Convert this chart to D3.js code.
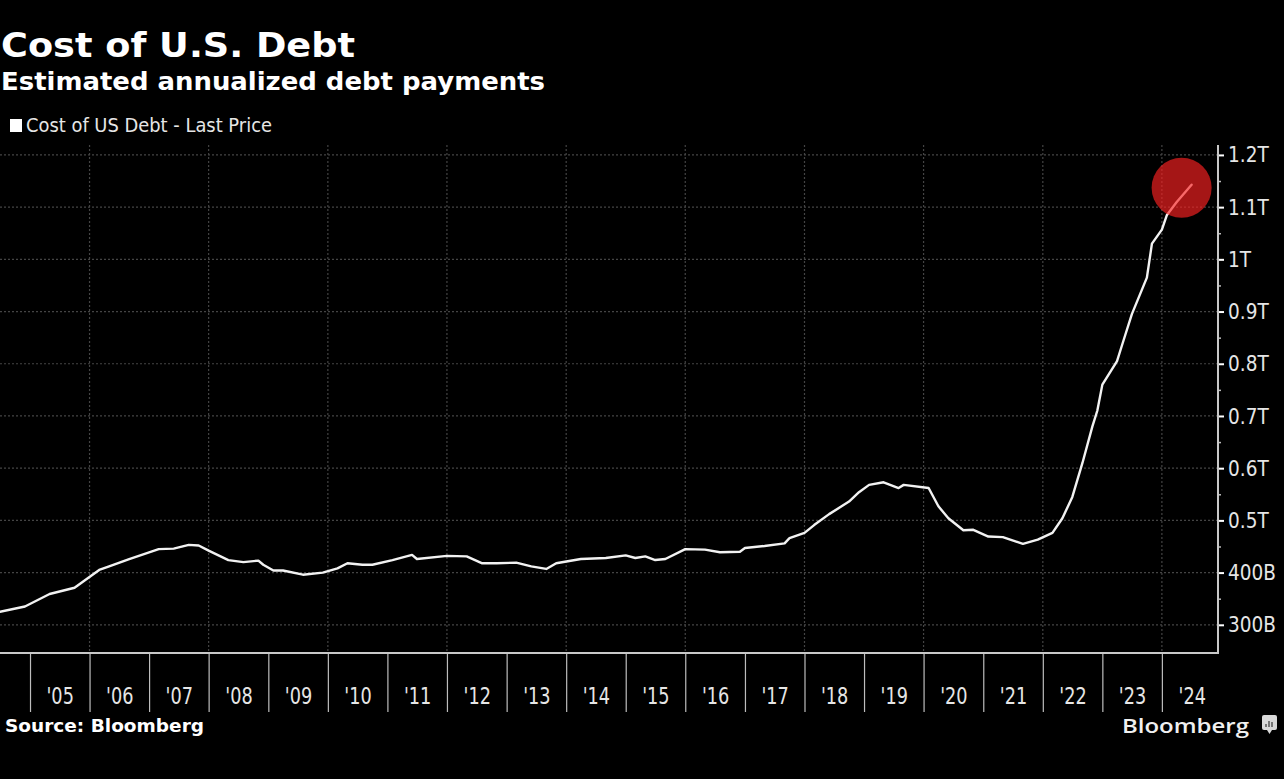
<!DOCTYPE html>
<html>
<head>
<meta charset="utf-8">
<script src="https://cdn.jsdelivr.net/npm/d3@7"></script>
<style>
  html, body { margin: 0; padding: 0; background: #000; }
  svg { display: block; }
</style>
</head>
<body>
<svg id="chart" width="1284" height="779"></svg>
<script>
// ---------------- DATA ----------------
const titleText = "Cost of U.S. Debt";
const subtitleText = "Estimated annualized debt payments";
const legendText = "Cost of US Debt - Last Price";
const sourceText = "Source: Bloomberg";
const brandText = "Bloomberg";

// Dates (year-month) and values (billions USD)
const dates = [
  "2004-07","2004-12","2005-05","2005-10","2006-03","2006-05","2006-09","2007-03","2007-06","2007-09",
  "2007-11","2008-01","2008-05","2008-08","2008-11","2008-12","2009-02","2009-04","2009-08","2009-12",
  "2010-03","2010-05","2010-08","2010-10","2011-02","2011-06","2011-07","2012-01","2012-05","2012-08",
  "2012-11","2013-03","2013-06","2013-09","2013-11","2014-04","2014-09","2015-01","2015-03","2015-05",
  "2015-07","2015-09","2016-01","2016-05","2016-08","2016-12","2017-01","2017-05","2017-09","2017-10",
  "2018-01","2018-03","2018-06","2018-10","2018-12","2019-02","2019-05","2019-08","2019-09","2020-02",
  "2020-04","2020-06","2020-09","2020-11","2021-02","2021-05","2021-09","2021-12","2022-03","2022-05",
  "2022-07","2022-09","2022-11","2022-12","2023-01","2023-04","2023-05","2023-07","2023-10","2023-11",
  "2024-01","2024-02","2024-04","2024-07"
];
const values = [
  325, 335, 359, 371, 405, 412, 426, 445, 446, 453,
  452, 442, 424, 420, 423, 415, 404, 404, 396, 400,
  408, 418, 415, 415, 424, 434, 426, 432, 431, 418,
  418, 419, 412, 407, 418, 426, 428, 433, 428, 431,
  424, 426, 445, 444, 439, 440, 447, 451, 456, 466,
  476, 491, 512, 536, 554, 568, 573, 562, 568, 562,
  527, 504, 481, 482, 469, 468, 455, 463, 476, 504,
  545, 610, 680, 710, 760, 805, 835, 895, 965, 1030,
  1057, 1085, 1110, 1143
];

const yTickValues = [300, 400, 500, 600, 700, 800, 900, 1000, 1100, 1200];
const yTickLabels = ["300B", "400B", "0.5T", "0.6T", "0.7T", "0.8T", "0.9T", "1T", "1.1T", "1.2T"];
const yMinorValues = [350, 450, 550, 650, 750, 850, 950, 1050, 1150];
const xYears = [2005, 2006, 2007, 2008, 2009, 2010, 2011, 2012, 2013, 2014,
                2015, 2016, 2017, 2018, 2019, 2020, 2021, 2022, 2023, 2024];
const xYearLabels = ["'05","'06","'07","'08","'09","'10","'11","'12","'13","'14",
                     "'15","'16","'17","'18","'19","'20","'21","'22","'23","'24"];
const xGridYears = [2006, 2008, 2010, 2012, 2014, 2016, 2018, 2020, 2022, 2024];
const highlightDate = "2024-05";
const highlightValue = 1137;

// ---------------- LAYOUT ----------------
const svg = d3.select("#chart");
const plot = { left: 0, right: 1218, top: 145, bottom: 653 };
const parse = d3.timeParse("%Y-%m");
const series = dates.map((d, i) => ({ date: parse(d), value: values[i] }));

const x = d3.scaleTime()
  .domain([new Date(2004, 6, 1), new Date(2024, 11, 10)])
  .range([plot.left, plot.right]);
const y = d3.scaleLinear()
  .domain([246, 1219])
  .range([plot.bottom, plot.top]);

const narrowFont = "'DejaVu Sans', sans-serif";
function condense(sel, factor) {
  sel.each(function () {
    const len = this.getComputedTextLength();
    d3.select(this).attr("textLength", len * factor).attr("lengthAdjust", "spacingAndGlyphs");
  });
}
function fitWidth(sel, width) {
  sel.attr("textLength", width).attr("lengthAdjust", "spacingAndGlyphs");
}

svg.append("rect").attr("width", 1284).attr("height", 779).attr("fill", "#000");

// ---------------- TITLES ----------------
svg.append("text").attr("x", 1).attr("y", 57)
  .attr("fill", "#fff").attr("font-family", "'DejaVu Sans', sans-serif")
  .attr("font-weight", "bold").attr("font-size", 34)
  .text(titleText).call(fitWidth, 354);

svg.append("text").attr("x", 1).attr("y", 90)
  .attr("fill", "#fff").attr("font-family", "'DejaVu Sans', sans-serif")
  .attr("font-weight", "bold").attr("font-size", 25)
  .text(subtitleText).call(fitWidth, 544);

// legend
svg.append("rect").attr("x", 10).attr("y", 119).attr("width", 12).attr("height", 13).attr("fill", "#fff");
svg.append("text").attr("x", 26).attr("y", 132)
  .attr("fill", "#e6e6e6").attr("font-family", narrowFont).attr("font-size", 19)
  .text(legendText).call(fitWidth, 246);

// ---------------- GRID ----------------
const grid = svg.append("g");
grid.selectAll("line.h").data(yTickValues).join("line")
  .attr("x1", plot.left).attr("x2", plot.right)
  .attr("y1", d => y(d)).attr("y2", d => y(d))
  .attr("stroke", "#444").attr("stroke-width", 1.2).attr("stroke-dasharray", "2,2");
grid.selectAll("line.v").data(xGridYears).join("line")
  .attr("x1", d => x(new Date(d, 0, 1))).attr("x2", d => x(new Date(d, 0, 1)))
  .attr("y1", plot.top).attr("y2", plot.bottom)
  .attr("stroke", "#444").attr("stroke-width", 1.2).attr("stroke-dasharray", "2,2");

// ---------------- AXES ----------------
// bottom: year separators
const xSep = svg.append("g").attr("transform", `translate(0,${plot.bottom})`)
  .call(d3.axisBottom(x).tickValues(xYears.map(yr => new Date(yr, 0, 1))).tickSize(59).tickFormat(""));
xSep.select(".domain").remove();
xSep.selectAll(".tick line").attr("stroke", "#bdbdbd").attr("stroke-width", 1.2);

// bottom: labels at mid-year
const xLab = svg.append("g").attr("transform", `translate(0,${plot.bottom})`)
  .call(d3.axisBottom(x).tickValues(xYears.map(yr => new Date(yr, 6, 2)))
    .tickSize(0).tickPadding(51).tickFormat((d, i) => xYearLabels[i]));
xLab.select(".domain").remove();
xLab.selectAll(".tick text").attr("fill", "#e6e6e6")
  .attr("font-family", narrowFont).attr("font-size", 23).attr("dy", 0);
xLab.selectAll(".tick text").call(condense, 0.77);

// bottom axis line
svg.append("line").attr("x1", plot.left).attr("x2", plot.right + 1)
  .attr("y1", plot.bottom).attr("y2", plot.bottom)
  .attr("stroke", "#c8c8c8").attr("stroke-width", 2);

// right axis
const yAxis = svg.append("g").attr("transform", `translate(${plot.right},0)`)
  .call(d3.axisRight(y).tickValues(yTickValues).tickSize(6).tickPadding(4)
    .tickFormat((d, i) => yTickLabels[i]));
yAxis.select(".domain").remove();
yAxis.selectAll(".tick line").attr("stroke", "#ffffff").attr("stroke-width", 2);
yAxis.selectAll(".tick text").attr("fill", "#e6e6e6")
  .attr("font-family", narrowFont).attr("font-size", 22);
yAxis.selectAll(".tick text").call(condense, 0.84);

const yMinor = svg.append("g").attr("transform", `translate(${plot.right},0)`)
  .call(d3.axisRight(y).tickValues(yMinorValues).tickSize(3).tickFormat(""));
yMinor.select(".domain").remove();
yMinor.selectAll(".tick line").attr("stroke", "#bbbbbb").attr("stroke-width", 1.5);

svg.append("line").attr("x1", plot.right).attr("x2", plot.right)
  .attr("y1", plot.top).attr("y2", plot.bottom + 1)
  .attr("stroke", "#c8c8c8").attr("stroke-width", 2);

// ---------------- LINE ----------------
const line = d3.line().x(d => x(d.date)).y(d => y(d.value)).curve(d3.curveLinear);
svg.append("path").datum(series)
  .attr("d", line).attr("fill", "none")
  .attr("stroke", "#f2f2f2").attr("stroke-width", 2.4)
  .attr("stroke-linejoin", "round").attr("stroke-linecap", "round");

// highlight circle
svg.append("circle")
  .attr("cx", x(parse(highlightDate))).attr("cy", y(highlightValue)).attr("r", 30)
  .attr("fill", "rgb(250,34,34)").attr("fill-opacity", 0.66);

// ---------------- FOOTER ----------------
svg.append("text").attr("x", 5).attr("y", 732)
  .attr("fill", "#fff").attr("font-family", "'DejaVu Sans', sans-serif")
  .attr("font-weight", "bold").attr("font-size", 17)
  .text(sourceText).call(fitWidth, 199);

svg.append("text").attr("x", 1122).attr("y", 733)
  .attr("fill", "#f0f0f0").attr("font-family", "'Open Sans', 'DejaVu Sans', sans-serif")
  .attr("font-weight", 600).attr("font-size", 20)
  .text(brandText).call(fitWidth, 127);

// brand icon
const icon = svg.append("g").attr("transform", "translate(1262,715)");
icon.append("rect").attr("width", 15).attr("height", 15).attr("rx", 2).attr("fill", "#d9d9d9");
icon.append("path").attr("d", "M5,15 L7.5,19 L10,15 Z").attr("fill", "#d9d9d9");
[[3, 9, 3], [6, 6, 3], [9, 7, 3]].forEach(([bx, by, bw]) => {
  icon.append("rect").attr("x", bx).attr("y", by).attr("width", bw - 1).attr("height", 12 - by).attr("fill", "#777");
});
</script>
</body>
</html>
